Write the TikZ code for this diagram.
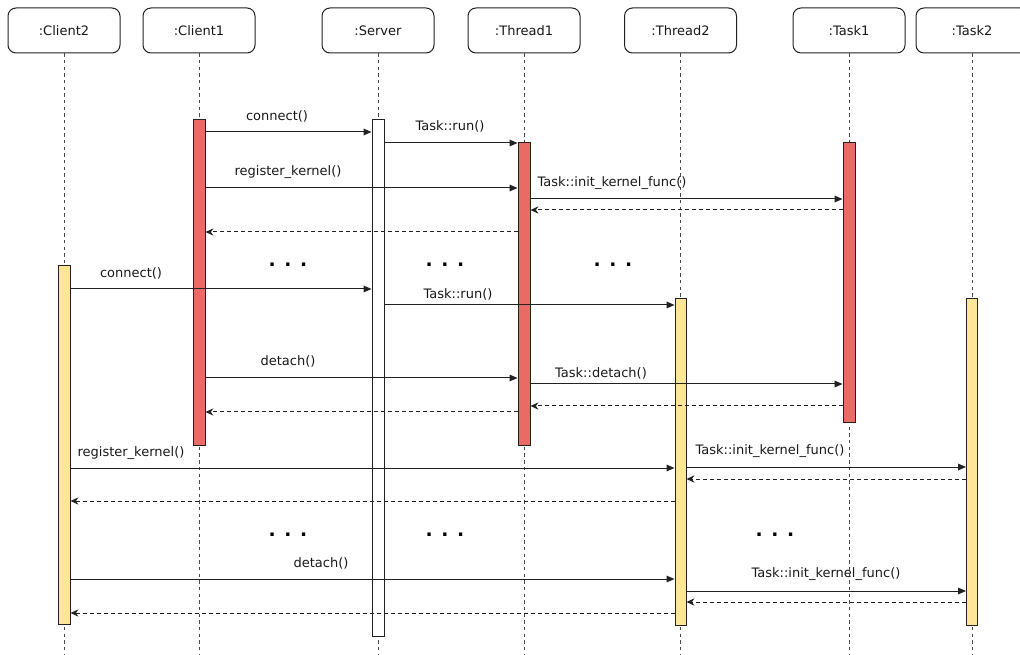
\documentclass[tikz,border=0pt]{standalone}
\usepackage{fontspec}
\setmainfont{DejaVu Sans}
\usetikzlibrary{arrows.meta,fit}
\definecolor{actred}{HTML}{EA6B66}
\definecolor{actyellow}{HTML}{FFE599}
\definecolor{edge}{HTML}{222222}
\definecolor{lifegray}{HTML}{4A4A4A}
\begin{document}
\begin{tikzpicture}[x=0.75pt,y=-0.75pt,
  lbl/.style={font=\fontsize{9.75pt}{11pt}\selectfont, text=black!90, inner sep=0pt},
  head/.style={lbl, draw=edge, line width=0.75pt, rounded corners=6pt,
    minimum width=84pt, minimum height=33.75pt, fill=white},
  life/.style={draw=lifegray, line width=0.75pt, dash pattern=on 2.5pt off 2.5pt},
  bar/.style={draw=edge, line width=0.75pt, inner sep=0pt},
  redbar/.style={bar, fill=actred},
  yellowbar/.style={bar, fill=actyellow},
  whitebar/.style={bar, fill=white},
  msg/.style={draw=edge, line width=0.75pt, -{Triangle[length=6pt,width=5pt]}},
  ret/.style={draw=edge, line width=0.75pt, dash pattern=on 3pt off 2.25pt,
    -{Stealth[length=6pt,width=5.5pt,inset=2pt]}},
  gap/.style={font=\fontsize{14pt}{15pt}\selectfont\bfseries, inner sep=0pt}
]
\clip (0,0) rectangle (1020,655);

% object headers
\node[head] (client2) at (64,30.5)  {:Client2};
\node[head] (client1) at (199,30.5) {:Client1};
\node[head] (server)  at (378,30.5) {:Server};
\node[head] (thread1) at (524,30.5) {:Thread1};
\node[head] (thread2) at (680.5,30.5) {:Thread2};
\node[head] (task1)   at (849,30.5) {:Task1};
\node[head] (task2)   at (972,30.5) {:Task2};

% lifelines
\foreach \o in {client2,client1,server,thread1,thread2,task1,task2}
  \draw[life] (\o.south) -- (\o.south |- 0,655);

% activation bars
\node[redbar,    fit={(193,120)(205,445)}]   (c1a) {};
\node[whitebar,  fit={(372,120)(384,636)}]   (srv) {};
\node[redbar,    fit={(518,143)(530,445)}]   (t1a) {};
\node[redbar,    fit={(843,143)(855,423)}]   (tk1) {};
\node[yellowbar, fit={(58.5,266)(70,624)}]   (c2a) {};
\node[yellowbar, fit={(675,299)(686,625)}]   (t2a) {};
\node[yellowbar, fit={(966.5,299)(977.5,625)}] (tk2) {};

% first client session
\draw[msg] (c1a.east |- 0,132) -- (srv.west |- 0,132);
\node[lbl] (m1) at (277,116) {connect()};
\draw[msg] (srv.east |- 0,143) -- (t1a.west |- 0,143);
\node[lbl] (m2) at (450,126) {Task::run()};
\draw[msg] (c1a.east |- 0,188) -- (t1a.west |- 0,188);
\node[lbl] (m3) at (288,172) {register\_kernel()};
\draw[msg] (t1a.east |- 0,199) -- (tk1.west |- 0,199);
\node[lbl] (m4) at (612,183) {Task::init\_kernel\_func()};
\draw[ret] (tk1.west |- 0,210) -- (t1a.east |- 0,210);
\draw[ret] (t1a.west |- 0,232) -- (c1a.east |- 0,232);

\node[gap] (g1) at (288,265) {. . .};
\node[gap] (g2) at (445,265) {. . .};
\node[gap] (g3) at (613,265) {. . .};

% second client connects
\draw[msg] (c2a.east |- 0,289) -- (srv.west |- 0,289);
\node[lbl] (m5) at (131,273) {connect()};
\draw[msg] (srv.east |- 0,305) -- (t2a.west |- 0,305);
\node[lbl] (m6) at (458,294) {Task::run()};

% first client detaches
\draw[msg] (c1a.east |- 0,378) -- (t1a.west |- 0,378);
\node[lbl] (m7) at (288,361) {detach()};
\draw[msg] (t1a.east |- 0,384) -- (tk1.west |- 0,384);
\node[lbl] (m8) at (601,373) {Task::detach()};
\draw[ret] (tk1.west |- 0,406) -- (t1a.east |- 0,406);
\draw[ret] (t1a.west |- 0,412) -- (c1a.east |- 0,412);

% second client session
\draw[msg] (c2a.east |- 0,468) -- (t2a.west |- 0,468);
\node[lbl] (m9) at (131,453) {register\_kernel()};
\draw[msg] (t2a.east |- 0,467) -- (tk2.west |- 0,467);
\node[lbl] (m10) at (770,451) {Task::init\_kernel\_func()};
\draw[ret] (tk2.west |- 0,479) -- (t2a.east |- 0,479);
\draw[ret] (t2a.west |- 0,501) -- (c2a.east |- 0,501);

\node[gap] (g4) at (288,535) {. . .};
\node[gap] (g5) at (445,535) {. . .};
\node[gap] (g6) at (775,535) {. . .};

\draw[msg] (c2a.east |- 0,579) -- (t2a.west |- 0,579);
\node[lbl] (m11) at (321,563) {detach()};
\draw[msg] (t2a.east |- 0,591) -- (tk2.west |- 0,591);
\node[lbl] (m12) at (826,574) {Task::init\_kernel\_func()};
\draw[ret] (tk2.west |- 0,602) -- (t2a.east |- 0,602);
\draw[ret] (t2a.west |- 0,613) -- (c2a.east |- 0,613);
\end{tikzpicture}
\end{document}
